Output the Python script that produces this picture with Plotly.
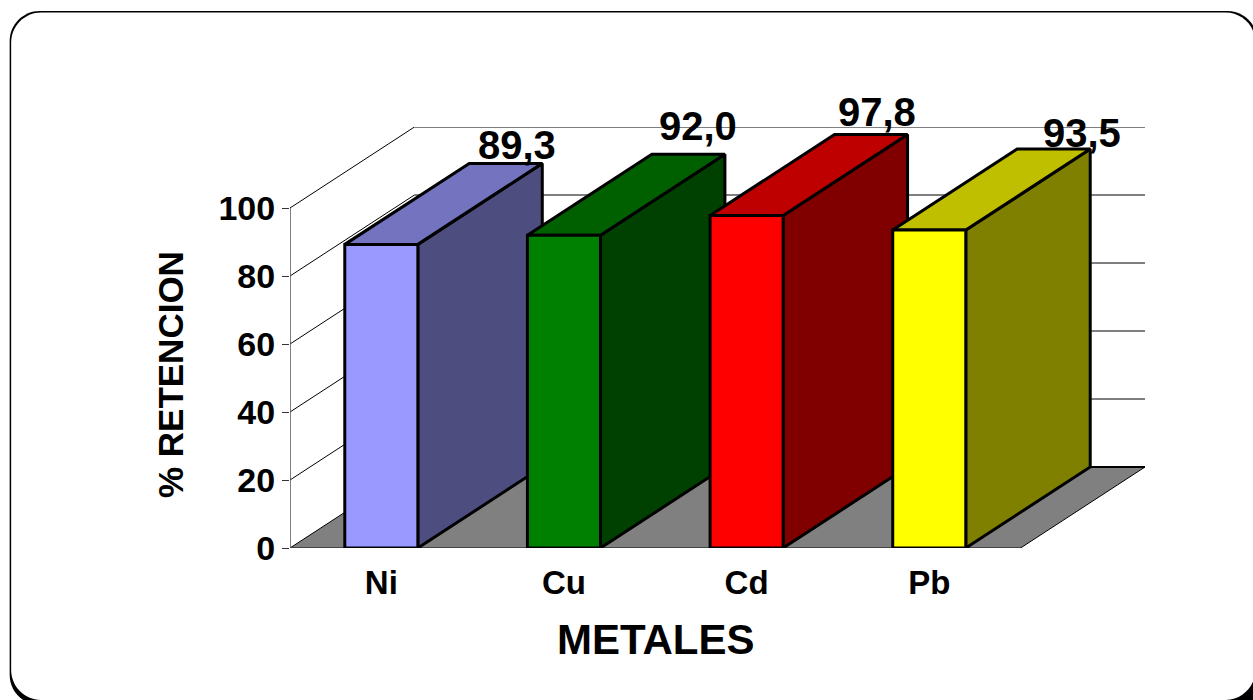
import plotly.graph_objects as go

# Retention by metal
metals = ["Ni", "Cu", "Cd", "Pb"]
retention = [89.3, 92.0, 97.8, 93.5]
y_ticks = [0, 20, 40, 60, 80, 100]

front_colors = ["#9999FF", "#008000", "#FF0000", "#FFFF00"]
side_colors = ["#4D4D80", "#004000", "#800000", "#808000"]
top_colors = ["#7373BF", "#006000", "#BF0000", "#BFBF00"]

W, H = 1253, 700
# Pixel scale of the axes and the oblique depth of the 3D box
FRONT_L, FRONT_B = 290, 548
PX_X, PX_Y = 182.75, 3.4
DEPTH_PX_X, DEPTH_PX_Y = 124.5, 81
DX = DEPTH_PX_X / PX_X
DY = DEPTH_PX_Y / PX_Y
HALF = 0.2

X_RANGE = [-0.5, 3.5 + DX]
Y_RANGE = [0, 100 + DY]
PLOT_W = (X_RANGE[1] - X_RANGE[0]) * PX_X
PLOT_H = (Y_RANGE[1] - Y_RANGE[0]) * PX_Y

# Hand placement of the value labels relative to the rear top edge of each bar (px)
LABEL_SHIFT = [(-25, 18), (-27, 28), (-31, 22), (-8, 16)]

fig = go.Figure()


def poly(xs, ys, fill=None, line="black", width=1.0):
    fig.add_trace(go.Scatter(
        x=xs, y=ys, mode="lines", hoverinfo="skip", showlegend=False,
        fill="toself" if fill else None, fillcolor=fill,
        line=dict(color=line, width=width),
    ))


x0, x1 = -0.5, 3.5
# floor
poly([x0, x1, x1 + DX, x0 + DX, x0], [0, 0, DY, DY, 0], fill="#808080", width=1)
# walls: gridlines run up the side wall and along the back wall
for v in y_ticks:
    if v == 0:
        poly([x0 + DX, x1 + DX], [DY, DY], width=2)
    else:
        poly([x0, x0 + DX, x1 + DX], [v, v + DY, v + DY], width=1)
# front axis lines
poly([x0, x0], [0, 100], line="#555555", width=1.5)
poly([x0, x1], [0, 0], line="#444444", width=2)

# bars, left to right so each one covers the side of the previous one
for i, v in enumerate(retention):
    l, r = i - HALF, i + HALF
    poly([r, r + DX, r + DX, r, r], [0, DY, v + DY, v, 0], fill=side_colors[i], width=3)
    poly([l, r, r + DX, l + DX, l], [v, v, v + DY, v + DY, v], fill=top_colors[i], width=3)
    poly([l, r, r, l, l], [0, 0, v, v, 0], fill=front_colors[i], width=3)

# value labels
for i, v in enumerate(retention):
    sx, sy = LABEL_SHIFT[i]
    fig.add_annotation(
        x=i + HALF + DX, y=v + DY, xshift=sx, yshift=sy, showarrow=False,
        text=f"{v:.1f}".replace(".", ","),
        font=dict(family="Liberation Sans", size=40, color="black", weight=700),
    )


def px(x):
    return (x - FRONT_L) / PLOT_W


def py(y):
    return (FRONT_B - y) / PLOT_H


# axis titles, centred on the front face of the chart rather than the whole box
fig.add_annotation(
    xref="paper", yref="paper", x=px(656), y=py(639), xanchor="center", yanchor="middle",
    showarrow=False, text="METALES",
    font=dict(family="Liberation Sans", size=42, color="black", weight=700),
)
fig.add_annotation(
    xref="paper", yref="paper", x=px(170), y=py(375), xanchor="center", yanchor="middle",
    showarrow=False, textangle=-90, text="% RETENCION",
    font=dict(family="Liberation Sans", size=35, color="black", weight=700),
)


def rounded(left, top, right, bottom, r):
    """Rounded rectangle as an SVG path in paper coordinates."""
    k = r * 0.45
    pts = [
        ("M", [(left + r, top)]),
        ("L", [(right - r, top)]),
        ("C", [(right - k, top), (right, top + k), (right, top + r)]),
        ("L", [(right, bottom - r)]),
        ("C", [(right, bottom - k), (right - k, bottom), (right - r, bottom)]),
        ("L", [(left + r, bottom)]),
        ("C", [(left + k, bottom), (left, bottom - k), (left, bottom - r)]),
        ("L", [(left, top + r)]),
        ("C", [(left, top + k), (left + k, top), (left + r, top)]),
    ]
    d = " ".join(c + " " + " ".join(f"{px(a):.5f},{py(b):.5f}" for a, b in p) for c, p in pts)
    return d + " Z"


# Rounded panel with a dark edge that thickens toward the lower right
shapes = [
    dict(type="path", xref="paper", yref="paper", layer="below",
         path=rounded(9.5, 11, 1258, 705, 30), fillcolor="black", line=dict(width=0)),
    dict(type="rect", xref="paper", yref="paper", layer="below",
         x0=px(1000), x1=px(1300), y0=py(760), y1=py(690), fillcolor="black", line=dict(width=0)),
    dict(type="path", xref="paper", yref="paper", layer="below",
         path=rounded(11, 12.5, 1256, 700, 30), fillcolor="white", line=dict(width=0)),
]

fig.update_layout(
    width=W, height=H,
    margin=dict(l=FRONT_L, r=W - FRONT_L - PLOT_W, t=FRONT_B - PLOT_H, b=H - FRONT_B, autoexpand=False),
    paper_bgcolor="white", plot_bgcolor="rgba(0,0,0,0)",
    shapes=shapes, showlegend=False,
    font=dict(family="Liberation Sans", color="black"),
)
fig.update_xaxes(
    range=X_RANGE, tickvals=list(range(len(metals))), ticktext=metals,
    showgrid=False, zeroline=False, showline=False,
    ticks="", ticklabelstandoff=12,
    tickfont=dict(family="Liberation Sans", size=33, weight=700, color="black"),
)
fig.update_yaxes(
    range=Y_RANGE, tickvals=y_ticks,
    showgrid=False, zeroline=False, showline=False,
    ticks="outside", ticklen=7, tickwidth=1, tickcolor="#333333",
    tickfont=dict(family="Liberation Sans", size=34, weight=700, color="black"),
)

fig.write_html("out.html", config=dict(displayModeBar=False))
